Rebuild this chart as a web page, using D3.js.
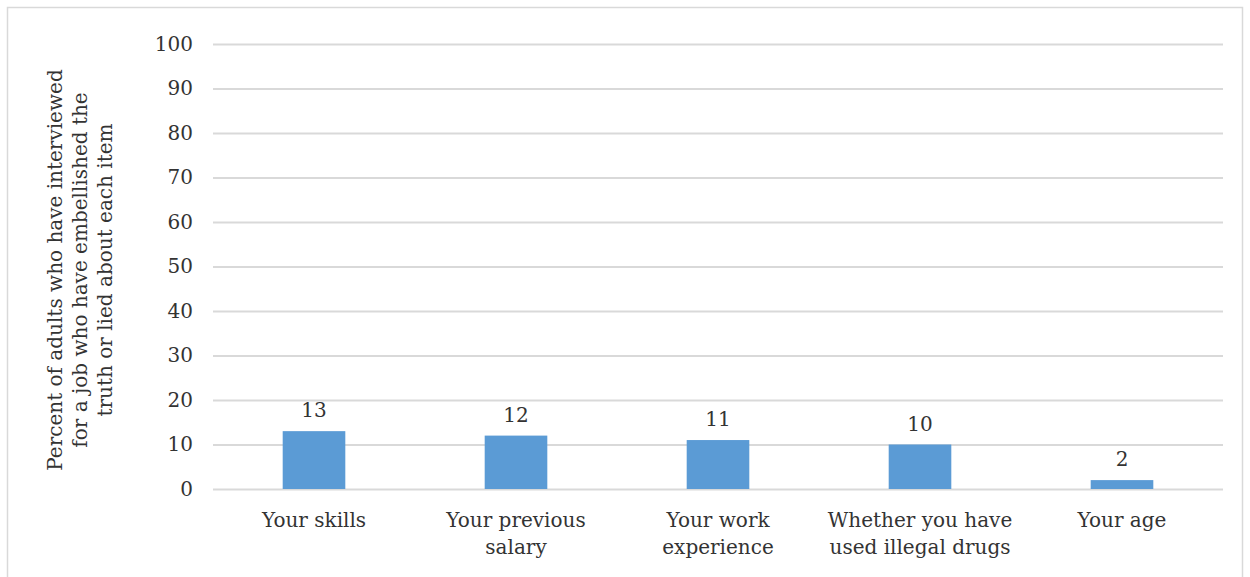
<!DOCTYPE html>
<html>
<head>
<meta charset="utf-8">
<script src="https://cdn.jsdelivr.net/npm/d3@7"></script>
<style>
  body { margin: 0; background: #fff; }
  svg text { font-family: 'DejaVu Serif', serif; fill: #333; }
</style>
</head>
<body>
<div id="chart"></div>
<script>
// Data
const categories = [
    ['Your skills'],
    ['Your previous', 'salary'],
    ['Your work', 'experience'],
    ['Whether you have', 'used illegal drugs'],
    ['Your age'],
]
const values = [13, 12, 11, 10, 2]
const yTicks = [0, 10, 20, 30, 40, 50, 60, 70, 80, 90, 100]
const yTitle = [
    'Percent of adults who have interviewed',
    'for a job who have embellished the',
    'truth or lied about each item',
]

const W = 1250
const H = 577
const margin = { top: 44, right: 27, bottom: 88, left: 213 }
const plotW = W - margin.left - margin.right
const plotH = H - margin.top - margin.bottom

const svg = d3
    .select('#chart')
    .append('svg')
    .attr('width', W)
    .attr('height', H)

// Outer frame
svg.append('rect')
    .attr('x', 7.5)
    .attr('y', 7.5)
    .attr('width', 1235)
    .attr('height', 590)
    .attr('fill', 'none')
    .attr('stroke', '#d9d9d9')
    .attr('stroke-width', 1.5)

const plot = svg
    .append('g')
    .attr('transform', `translate(${margin.left}, ${margin.top})`)

const x = d3
    .scaleBand()
    .domain(d3.range(categories.length))
    .range([0, plotW])

const y = d3.scaleLinear().domain([0, 100]).range([plotH, 0])

// Grid lines
const yAxis = d3
    .axisLeft(y)
    .tickValues(yTicks)
    .tickSize(-plotW)
    .tickPadding(20)

const yg = plot.append('g').call(yAxis)
yg.select('.domain').remove()
yg.selectAll('.tick line').attr('stroke', '#d9d9d9').attr('stroke-width', 2)
yg.selectAll('.tick text')
    .style('font-family', "'DejaVu Serif', serif")
    .style('font-size', '20px')
    .attr('fill', '#333')

// Bars
const barW = x.bandwidth() * 0.31
plot.selectAll('rect.bar')
    .data(values)
    .join('rect')
    .attr('class', 'bar')
    .attr('x', (d, i) => x(i) + (x.bandwidth() - barW) / 2)
    .attr('y', (d) => y(d))
    .attr('width', barW)
    .attr('height', (d) => y(0) - y(d))
    .attr('fill', '#5b9bd5')

// Value labels
plot.selectAll('text.val')
    .data(values)
    .join('text')
    .attr('class', 'val')
    .attr('x', (d, i) => x(i) + x.bandwidth() / 2)
    .attr('y', (d) => y(d) - 14)
    .attr('text-anchor', 'middle')
    .style('font-size', '20px')
    .text((d) => d)

// Category labels
const cat = plot.selectAll('text.cat')
    .data(categories)
    .join('text')
    .attr('class', 'cat')
    .attr('text-anchor', 'middle')
    .attr('transform', (d, i) => `translate(${x(i) + x.bandwidth() / 2}, ${plotH + 38})`)
    .style('font-size', '20px')
cat.selectAll('tspan')
    .data((d) => d)
    .join('tspan')
    .attr('x', 0)
    .attr('dy', (d, i) => (i === 0 ? 0 : 27))
    .text((d) => d)

// Y axis title
const title = svg.append('text')
    .attr('text-anchor', 'middle')
    .attr('transform', 'translate(62, 270) rotate(-90)')
    .style('font-size', '20px')
title.selectAll('tspan')
    .data(yTitle)
    .join('tspan')
    .attr('x', 0)
    .attr('dy', (d, i) => (i === 0 ? 0 : 25))
    .text((d) => d)
</script>
</body>
</html>
